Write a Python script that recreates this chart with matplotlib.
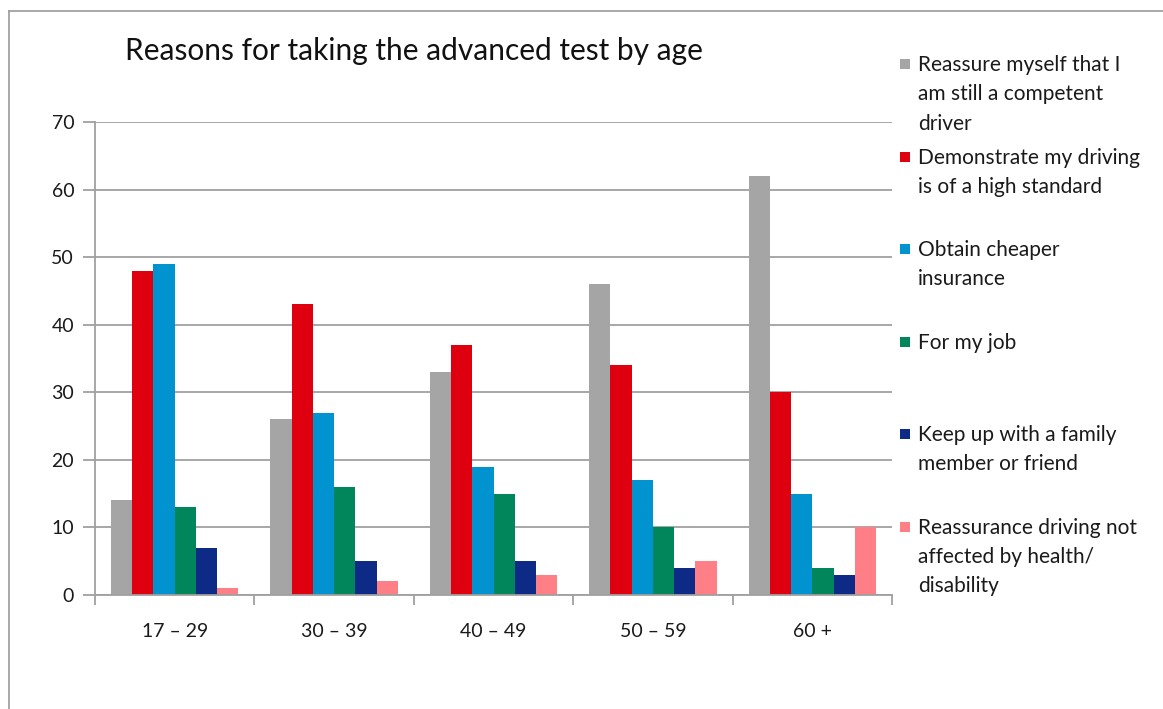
import numpy as np
import matplotlib
matplotlib.use("Agg")
import matplotlib.pyplot as plt
from matplotlib.patches import Rectangle

plt.rcParams['font.family'] = ['Lato', 'DejaVu Sans']

age_groups = ["17 – 29", "30 – 39", "40 – 49", "50 – 59", "60 +"]
reasons = [
    "Reassure myself that I\nam still a competent\ndriver",
    "Demonstrate my driving\nis of a high standard",
    "Obtain cheaper\ninsurance",
    "For my job",
    "Keep up with a family\nmember or friend",
    "Reassurance driving not\naffected by health/\ndisability",
]
reassure = [14, 26, 33, 46, 62]
demonstrate = [48, 43, 37, 34, 30]
insurance = [49, 27, 19, 17, 15]
job = [13, 16, 15, 10, 4]
family = [7, 5, 5, 4, 3]
health = [1, 2, 3, 5, 10]
series = [reassure, demonstrate, insurance, job, family, health]
colors = ["#A5A5A5", "#DF000F", "#0093D0", "#00865A", "#0E2A87", "#FF7F87"]

W, H = 1163, 709
fig = plt.figure(figsize=(W / 100, H / 100), dpi=100)
ax = fig.add_axes([95 / W, 1 - 595 / H, (892 - 95) / W, (595 - 122) / H])

# outer chart border (left and top edges)
fig.add_artist(plt.Line2D([9 / W, 9 / W], [0, 1 - 11 / H], transform=fig.transFigure,
                          color="#9A9A9A", lw=1.2))
fig.add_artist(plt.Line2D([9 / W, 1], [1 - 11 / H, 1 - 11 / H], transform=fig.transFigure,
                          color="#9A9A9A", lw=1.2))

x = np.arange(len(age_groups))
bw = 0.8 / len(series)
for i, (vals, c) in enumerate(zip(series, colors)):
    ax.bar(x - 0.4 + bw * (i + 0.5), vals, bw, color=c, zorder=3, linewidth=0)

ax.set_xlim(-0.5, len(age_groups) - 0.5)
ax.set_ylim(0, 70)
ax.set_yticks(range(0, 71, 10))
ax.yaxis.grid(True, color="#A0A0A0", lw=1.3, zorder=0)
for s in ["top", "right"]:
    ax.spines[s].set_visible(False)
for s in ["left", "bottom"]:
    ax.spines[s].set_color("#A0A0A0")
    ax.spines[s].set_linewidth(1.3)
    ax.spines[s].set_zorder(4)

ax.set_xticks(np.arange(-0.5, len(age_groups), 1.0))
ax.set_xticklabels([])
ax.set_xticks(x, minor=True)
ax.set_xticklabels(age_groups, minor=True)
ax.tick_params(axis="x", which="major", length=7, width=1.3, color="#A0A0A0")
ax.tick_params(axis="x", which="minor", length=0, pad=20, labelsize=14, labelcolor="#1A1A1A")
ax.tick_params(axis="y", length=9, width=1.3, color="#A0A0A0", pad=6, labelsize=14,
               labelcolor="#1A1A1A")

fig.text(125 / W, 1 - 51 / H, "Reasons for taking the advanced test by age",
         fontsize=21.5, color="#111111", va="center", ha="left")

# legend entries on the right
for i, (label, c) in enumerate(zip(reasons, colors)):
    yc = 64 + i * 92.5
    fig.add_artist(Rectangle((900 / W, 1 - (yc + 5) / H), 10 / W, 10 / H,
                             transform=fig.transFigure, color=c, lw=0))
    fig.text(918 / W, 1 - (yc - 9) / H, label, fontsize=15, color="#1A1A1A",
             va="top", ha="left", linespacing=1.58)

fig.savefig("out.png", dpi=100)
